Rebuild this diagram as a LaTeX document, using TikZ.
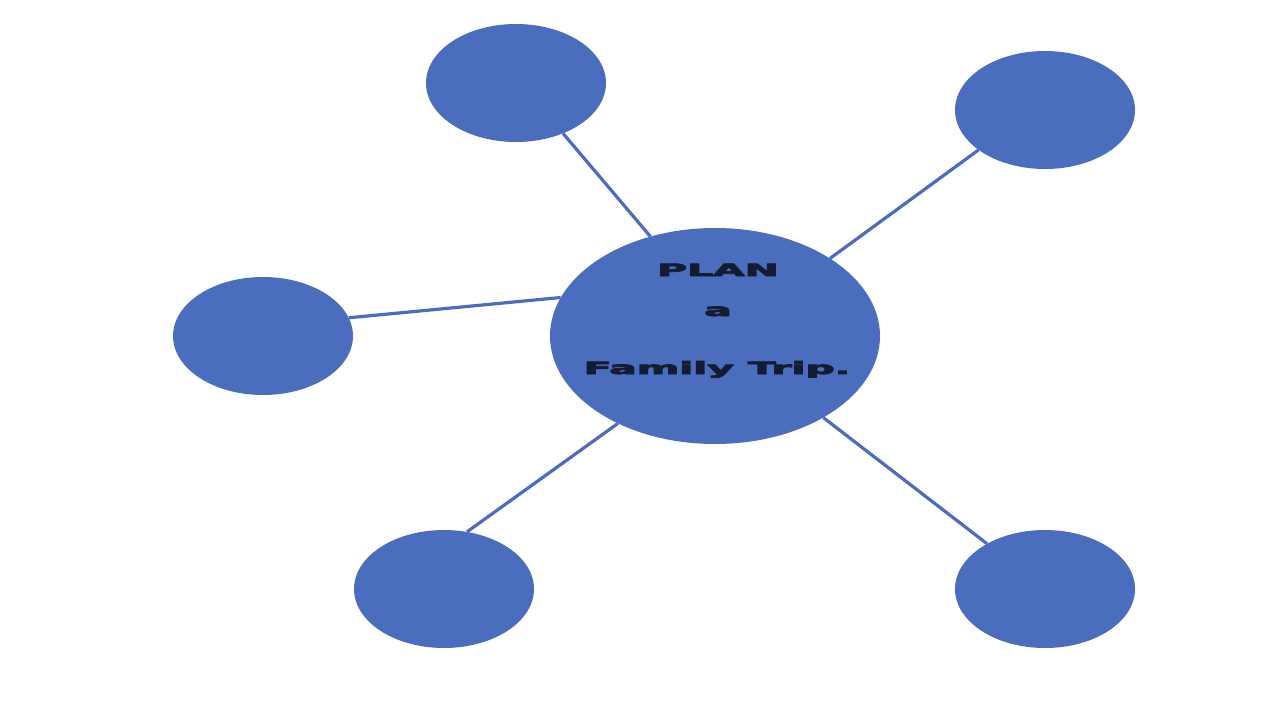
\documentclass[tikz,border=0pt]{standalone}
\usepackage{fontspec}
\usepackage{graphicx}
\usetikzlibrary{shapes.geometric}
\newfontfamily\heavyfont[RawFeature={embolden=4}]{DejaVu Sans Bold}
\definecolor{bubble}{HTML}{4A6DBD}
\definecolor{ink}{HTML}{141C33}
\newcommand{\widetext}[1]{\scalebox{2.4}[1]{\heavyfont\fontsize{17}{20}\selectfont #1}}
\begin{document}
\begin{tikzpicture}[x=1pt,y=-1pt,
  bubblebox/.style={ellipse,fill=bubble,inner sep=0pt,minimum width=180pt,minimum height=118pt},
  hubbox/.style={ellipse,fill=bubble,inner sep=0pt,minimum width=330pt,minimum height=216pt},
  link/.style={draw=bubble,line width=3.2pt},
  label/.style={text=ink,inner sep=0pt,anchor=base}]
  \useasboundingbox (0,0) rectangle (1280,720);
  \fill[white] (0,0) rectangle (1280,720);
  % hub and satellite bubbles
  \node[hubbox] (hub) at (715,336) {};
  \node[bubblebox] (top) at (516,83) {};
  \node[bubblebox] (topright) at (1045,110) {};
  \node[bubblebox] (left) at (263,336) {};
  \node[bubblebox] (botleft) at (444,589) {};
  \node[bubblebox] (botright) at (1045,589) {};
  % spokes
  \draw[link] (top.-47) -- (hub.123);
  \draw[link] (topright.211) -- (hub.34);
  \draw[link] (left.12) -- (hub.166);
  \draw[link] (botleft.68) -- (hub.222);
  \draw[link] (botright.142) -- (hub.-37);
  % title
  \node[label] (t1) at (718,276) {\widetext{PLAN}};
  \node[label] (t2) at (718,316) {\widetext{a}};
  \node[label] (t3) at (717,374) {\widetext{Family Trip.}};
\end{tikzpicture}
\end{document}
